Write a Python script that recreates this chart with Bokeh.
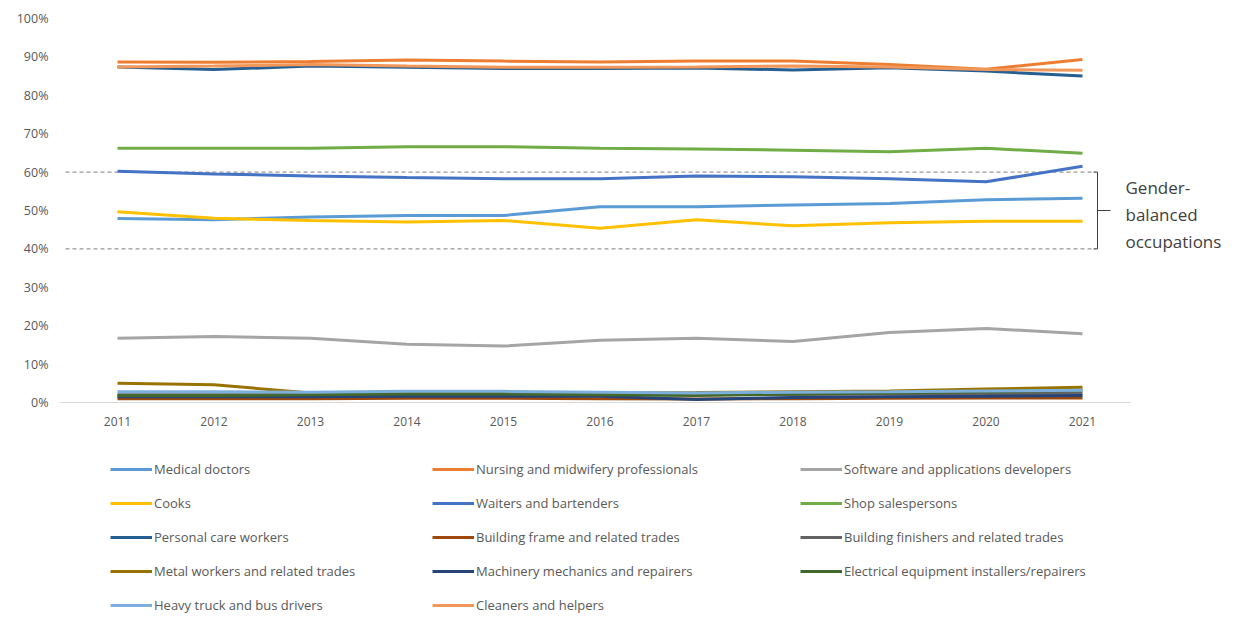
from bokeh.plotting import figure
from bokeh.models import Range1d, Legend, LegendItem, Label
from bokeh.embed import file_html
from bokeh.resources import INLINE

years = [2011, 2012, 2013, 2014, 2015, 2016, 2017, 2018, 2019, 2020, 2021]
y_ticks = [0, 10, 20, 30, 40, 50, 60, 70, 80, 90, 100]

medical_doctors = [47.9, 47.6, 48.3, 48.7, 48.7, 51.0, 51.0, 51.4, 51.8, 52.8, 53.2]
nursing = [88.7, 88.6, 88.8, 89.2, 88.9, 88.7, 88.9, 88.9, 88.0, 86.8, 89.3]
software = [16.7, 17.2, 16.7, 15.2, 14.7, 16.2, 16.7, 15.9, 18.2, 19.3, 17.9]
cooks = [49.7, 48.0, 47.4, 47.0, 47.4, 45.4, 47.6, 46.0, 46.8, 47.2, 47.2]
waiters = [60.2, 59.5, 59.0, 58.6, 58.3, 58.3, 59.0, 58.8, 58.3, 57.5, 61.5]
shop = [66.2, 66.2, 66.2, 66.6, 66.6, 66.2, 66.0, 65.7, 65.3, 66.2, 64.9]
personal_care = [87.4, 86.7, 87.6, 87.3, 87.0, 87.0, 87.1, 86.6, 87.2, 86.3, 85.0]
building_frame = [1.0, 1.0, 1.0, 1.1, 1.1, 1.0, 0.9, 1.0, 1.1, 1.2, 1.2]
building_finishers = [2.0, 2.0, 2.1, 2.2, 2.2, 2.0, 2.0, 2.1, 2.2, 2.3, 2.4]
metal_workers = [5.0, 4.6, 2.5, 2.7, 2.7, 2.5, 2.6, 2.8, 3.0, 3.5, 4.0]
machinery = [1.5, 1.5, 1.5, 1.6, 1.6, 1.6, 0.8, 1.3, 1.5, 1.6, 1.8]
electrical = [1.8, 1.8, 2.0, 2.2, 2.2, 2.0, 1.8, 2.2, 2.5, 2.8, 3.2]
truck_drivers = [2.8, 2.8, 2.7, 2.9, 2.9, 2.7, 2.5, 2.7, 2.8, 3.0, 3.2]
cleaners = [87.4, 87.6, 88.0, 87.6, 87.3, 87.3, 87.4, 87.6, 87.4, 86.7, 86.5]

names = [
    "Medical doctors", "Nursing and midwifery professionals", "Software and applications developers",
    "Cooks", "Waiters and bartenders", "Shop salespersons",
    "Personal care workers", "Building frame and related trades", "Building finishers and related trades",
    "Metal workers and related trades", "Machinery mechanics and repairers", "Electrical equipment installers/repairers",
    "Heavy truck and bus drivers", "Cleaners and helpers",
]
series = [medical_doctors, nursing, software, cooks, waiters, shop, personal_care, building_frame,
          building_finishers, metal_workers, machinery, electrical, truck_drivers, cleaners]
colors = ["#5B9BD5", "#ED7D31", "#A5A5A5", "#FFC000", "#4472C4", "#70AD47",
          "#255E91", "#9E480E", "#636363", "#997300", "#264478", "#43682B",
          "#7CAFDD", "#F1975A"]

band_low, band_high = 40, 60
band_label = ["Gender-", "balanced", "occupations"]

FONT = "Open Sans"
GRAY = "#595959"

# layout (canvas pixels)
W, H = 1234, 626
PX_YEAR = 96.5          # px per year
X0_PX = 117             # canvas x of first year
PX_PCT = 3.84           # px per percent
Y0_PX = 402             # canvas y of 0%

x_start = years[0] - X0_PX / PX_YEAR
x_end = x_start + W / PX_YEAR
y_end = Y0_PX / PX_PCT
y_start = y_end - H / PX_PCT


def cx(px):
    return x_start + px / PX_YEAR


def cy(py):
    return (Y0_PX - py) / PX_PCT


p = figure(width=W, height=H, output_backend="svg", toolbar_location=None,
           x_range=Range1d(x_start, x_end), y_range=Range1d(y_start, y_end),
           x_axis_location=None, y_axis_location=None,
           min_border=0, min_border_left=0, min_border_right=0, min_border_top=0, min_border_bottom=0)
p.outline_line_color = None
p.xgrid.visible = False
p.ygrid.visible = False

left_edge = years[0] - 0.5
right_edge = years[-1] + 0.5

# axis line at 0%
p.line([left_edge - 0.1, right_edge], [0, 0], line_color="#D9D9D9", line_width=1)

# y tick labels
p.text(x=[cx(48)] * len(y_ticks), y=y_ticks, text=[f"{t}%" for t in y_ticks],
       text_align="right", text_baseline="middle", text_color=GRAY,
       text_font={"value": FONT}, text_font_size={"value": "12.5px"})
# x tick labels
p.text(x=years, y=[cy(421)] * len(years), text=[str(y) for y in years],
       text_align="center", text_baseline="middle", text_color=GRAY,
       text_font={"value": FONT}, text_font_size={"value": "12px"})

# gender-balanced band markers
for yv in (band_low, band_high):
    p.line([cx(65), cx(1095)], [yv, yv], line_color="#7F7F7F", line_width=1, line_dash="4 3")
p.line([cx(1093), cx(1097), cx(1097), cx(1093)], [band_high, band_high, band_low, band_low],
       line_color="#404040", line_width=1)
p.line([cx(1097), cx(1110)], [(band_low + band_high) / 2] * 2, line_color="#404040", line_width=1)
for i, t in enumerate(band_label):
    p.add_layout(Label(x=cx(1125), y=cy(187 + 27 * i), text=t, text_font=FONT, text_font_size="17px",
                       text_color="#404040", text_baseline="middle"))

renderers = []
for vals, c in zip(series, colors):
    r = p.line(years, vals, line_color=c, line_width=3)
    renderers.append(r)

cols_x = [110, 432, 800]
legend_top = 459
for ci in range(3):
    idx = list(range(ci, len(names), 3))
    items = [LegendItem(label=names[i], renderers=[renderers[i]]) for i in idx]
    n = len(idx)
    h = n * 20 + (n - 1) * 14
    lg = Legend(items=items, location=(cols_x[ci], H - legend_top - h), orientation="vertical",
                padding=0, margin=0, spacing=14, glyph_width=42, glyph_height=20, label_height=20,
                label_standoff=2, border_line_color=None, background_fill_alpha=0,
                label_text_font=FONT, label_text_font_size="13px", label_text_color=GRAY)
    p.add_layout(lg, "center")

open("out.html", "w").write(file_html(p, INLINE))
